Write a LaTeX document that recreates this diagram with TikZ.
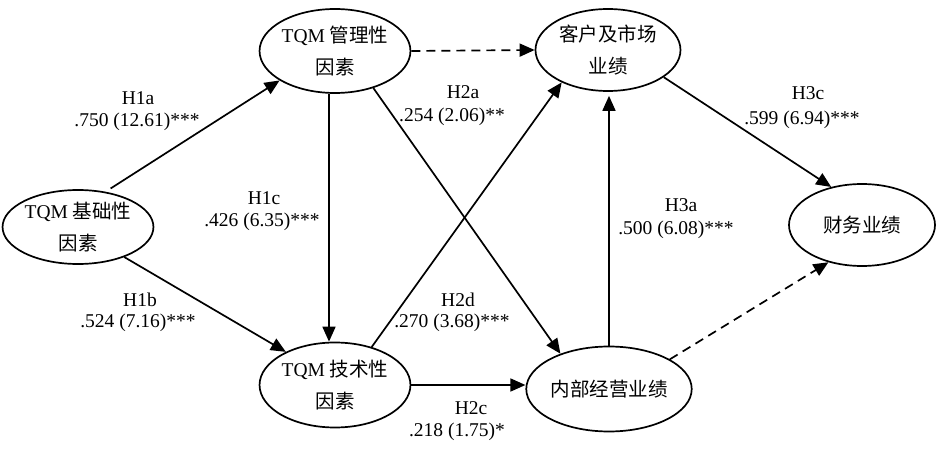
\documentclass[tikz,border=0pt]{standalone}
\usepackage{fontspec}
\setmainfont{Liberation Serif}
\newfontfamily\cjk{Noto Sans CJK SC}
\usetikzlibrary{shapes.geometric,arrows.meta,calc}
\begin{document}
\begin{tikzpicture}[x=1pt,y=-1pt,
  every node/.style={font=\fontsize{19.5}{32}\selectfont},
  latent/.style={draw, line width=1.7pt, ellipse, inner sep=0pt, align=center},
  lbl/.style={inner sep=0pt, font=\fontsize{19.5}{25}\selectfont},
  conn/.style={line width=1.7pt, -{Triangle[length=15pt,width=13pt]}},
  dconn/.style={conn, dash pattern=on 9pt off 6pt}
]
\path[use as bounding box, fill=white] (0,0) rectangle (943,449);

\node[latent, minimum width=146pt, minimum height=74pt] (e1) at (78,227) {TQM {\cjk 基础性}\\{\cjk 因素}};
\node[latent, minimum width=144pt, minimum height=84pt] (e2) at (335,51) {TQM {\cjk 管理性}\\{\cjk 因素}};
\node[latent, minimum width=144pt, minimum height=85pt] (e3) at (335,385) {TQM {\cjk 技术性}\\{\cjk 因素}};
\node[latent, minimum width=145pt, minimum height=82pt] (e4) at (608,50) {{\cjk 客户及市场}\\{\cjk 业绩}};
\node[latent, minimum width=146pt, minimum height=85pt] (e5) at (609,389) {{\cjk 内部经营业绩}};
\node[latent, minimum width=146pt, minimum height=82pt] (e6) at (862,225) {{\cjk 财务业绩}};

% connectors
\draw[conn, shorten <=6pt] (e1.52) -- (e2.208);
\draw[conn] (e1.327) -- (e3.146);
\draw[conn] ([xshift=-6pt]e2.south) -- ([xshift=-6pt]e3.north);
\draw[conn] (e2.316) -- (e5.144);
\draw[dconn] (e2.east) -- (e4.west);
\draw[conn] (e3.46) -- (e4.215);
\draw[conn] (e3.east) -- (e3.east -| e5.west);
\draw[conn, shorten >=4pt] (e5.north) -- (e5.north |- e4.south);
\draw[conn] (e4.334) -- (e6.129);
\draw[dconn] (e5.26) -- (e6.228);

% labels
\node[lbl] (l1a) at (138,98) {H1a};
\node[lbl] (v1a) at (137,122) {.750 (12.61)***};
\node[lbl] (l2a) at (463,92) {H2a};
\node[lbl] (v2a) at (452,117) {.254 (2.06)**};
\node[lbl] (l1c) at (264,198) {H1c};
\node[lbl] (v1c) at (262,222) {.426 (6.35)***};
\node[lbl] (l1b) at (140,300) {H1b};
\node[lbl] (v1b) at (138,323) {.524 (7.16)***};
\node[lbl] (l2d) at (458,300) {H2d};
\node[lbl] (v2d) at (452,323) {.270 (3.68)***};
\node[lbl] (l2c) at (471,408) {H2c};
\node[lbl] (v2c) at (457,432) {.218 (1.75)*};
\node[lbl] (l3a) at (681,205) {H3a};
\node[lbl] (v3a) at (676,230) {.500 (6.08)***};
\node[lbl] (l3c) at (808,93) {H3c};
\node[lbl] (v3c) at (802,120) {.599 (6.94)***};
\end{tikzpicture}
\end{document}
